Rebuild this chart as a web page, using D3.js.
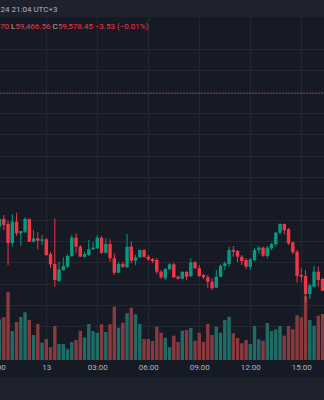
<!DOCTYPE html>
<html><head><meta charset="utf-8">
<script src="https://cdn.jsdelivr.net/npm/d3@7"></script>
<style>html,body{margin:0;padding:0;background:#161a25;overflow:hidden}svg{display:block}</style>
</head><body><svg id="c" width="324" height="400"></svg>
<script>
// ---- data (15-minute candles, BTC/USD, 12–13 Aug 2024, UTC+3) ----
const times = ["21:00","21:15","21:30","21:45","22:00","22:15","22:30","22:45","23:00","23:15","23:30","23:45",
"00:00","00:15","00:30","00:45","01:00","01:15","01:30","01:45","02:00","02:15","02:30","02:45",
"03:00","03:15","03:30","03:45","04:00","04:15","04:30","04:45","05:00","05:15","05:30","05:45",
"06:00","06:15","06:30","06:45","07:00","07:15","07:30","07:45","08:00","08:15","08:30","08:45",
"09:00","09:15","09:30","09:45","10:00","10:15","10:30","10:45","11:00","11:15","11:30","11:45",
"12:00","12:15","12:30","12:45","13:00","13:15","13:30","13:45","14:00","14:15","14:30","14:45",
"15:00","15:15","15:30","15:45","16:00","16:15"];
const open  = [59851.4,59866.8,59902.9,59879.5,59790.4,59890.3,59835.9,59843.4,59902.9,59796.5,59812.5,59801.2,
59807.8,59738.9,59692.0,59612.3,59663.9,59679.3,59729.5,59815.3,59773.1,59726.2,59734.2,59760.9,
59765.6,59815.3,59745.0,59785.8,59718.7,59651.2,59692.0,59676.5,59773.1,59707.5,59723.4,59757.6,
59726.2,59715.4,59710.8,59655.9,59625.0,59667.2,59690.6,59632.5,59623.1,59654.5,59635.8,59700.0,
59671.8,59640.4,59629.7,59609.0,59580.9,59632.5,59682.6,59692.0,59757.6,59752.9,59726.2,59710.8,
59679.3,59710.8,59757.6,59768.4,59729.5,59765.6,59784.3,59838.7,59879.5,59854.7,59793.7,59749.7,
59640.4,59635.8,59551.4,59585.6,59655.9,59621.7];
const high  = [59870.1,59912.3,59921.7,59895.0,59926.4,59932.5,59846.7,59910.9,59905.3,59851.4,59840.6,59827.9,
59813.9,59748.3,59906.2,59702.8,59723.4,59738.9,59827.9,59835.9,59781.1,59748.3,59804.5,59796.5,
59827.9,59823.3,59813.9,59807.8,59742.2,59701.4,59701.4,59832.6,59796.5,59734.2,59760.0,59762.3,
59734.2,59720.1,59720.1,59663.9,59673.3,59696.7,59696.7,59638.1,59659.2,59659.2,59718.7,59706.1,
59687.3,59645.1,59640.4,59625.0,59663.9,59690.6,59702.8,59773.1,59776.4,59757.6,59734.2,59720.1,
59720.1,59767.0,59776.4,59773.1,59776.4,59790.4,59843.4,59882.8,59881.8,59860.8,59796.5,59757.6,
59671.8,59663.9,59598.3,59682.6,59679.3,59626.4];
const low   = [59837.3,59856.1,59851.4,59687.3,59773.1,59823.3,59776.4,59837.3,59795.1,59792.8,59760.9,59781.1,
59729.5,59673.3,59585.6,59607.6,59660.6,59673.3,59724.8,59745.0,59724.8,59720.1,59729.5,59757.6,
59762.3,59738.9,59741.2,59702.8,59640.4,59649.8,59673.3,59673.3,59695.3,59687.3,59722.5,59722.5,
59706.1,59696.7,59645.1,59621.7,59617.0,59663.9,59626.4,59619.3,59619.3,59617.0,59631.1,59668.6,
59631.1,59621.7,59578.1,59570.1,59579.5,59631.1,59663.9,59679.3,59726.2,59701.4,59687.3,59667.2,
59663.9,59706.1,59742.2,59726.2,59718.7,59757.6,59773.1,59832.6,59831.2,59781.1,59737.5,59604.3,
59609.0,59513.9,59527.9,59582.8,59585.6,59565.4];
const close = [59860.8,59902.9,59874.8,59790.4,59890.3,59835.9,59846.7,59902.9,59796.5,59812.5,59801.2,59807.8,
59734.2,59690.6,59617.0,59667.2,59682.6,59729.5,59815.3,59773.1,59726.2,59738.9,59760.9,59768.4,
59815.3,59745.0,59785.8,59718.7,59651.2,59692.0,59679.3,59773.1,59707.5,59723.4,59757.6,59726.2,
59714.0,59706.1,59655.9,59629.7,59667.2,59690.6,59629.7,59623.1,59654.5,59632.5,59700.0,59671.8,
59635.8,59629.7,59609.0,59578.1,59632.5,59684.0,59695.3,59757.6,59749.7,59726.2,59706.1,59679.3,
59714.0,59757.6,59768.4,59730.9,59768.4,59785.8,59838.7,59879.5,59851.4,59789.0,59746.8,59635.8,
59632.5,59551.4,59592.2,59655.9,59617.0,59566.8];
const volume = [300,407,427,680,290,380,430,477,400,250,360,173,
210,127,340,160,160,107,180,200,293,227,360,290,
273,357,280,357,533,323,373,467,523,457,360,210,
210,190,333,273,223,127,243,180,293,300,320,193,
273,183,360,250,333,273,400,433,267,220,167,200,
160,340,207,193,370,290,307,340,243,340,307,447,
427,640,400,343,443,460];
const tickTimes  = ["21:00","00:00","03:00","06:00","09:00","12:00","15:00"];
const tickLabels = ["21:00","13","03:00","06:00","09:00","12:00","15:00"];
const gridPrices = [60700,60600,60500,60400,60300,60200,60100,60000,59900,59800,59700,59600,59500,59400,59300];
const lastPrice = 60492;
const headerLine1 = "24 21:04 UTC+3";
const legendParts = [
  {t:"70", c:"val"},{t:" L", c:"lab"},{t:"59,466.56", c:"val"},
  {t:" C", c:"lab"},{t:"59,578.45", c:"val"},{t:" −3.53 (−0.01%)", c:"val"}];

// ---- drawing ----
const W = 324, H = 400;
const UP = "#089981", DOWN = "#f23645";
const VUP = "#1f6b66", VDOWN = "#8a3a3e";
const BG = "#161a25", PANEL = "#1e222d", GRID = "#232733", TXT = "#b2b5be";
const svg = d3.select("#c");

const x = d3.scalePoint().domain(times).range([-4.7, 322.55]);
const y = d3.scaleLinear().domain([59300, 60700]).range([347.63, 48.97]);
const yv = d3.scaleLinear().domain([0, 700]).range([360, 290]);

svg.append("rect").attr("width", W).attr("height", H).attr("fill", BG);
svg.append("rect").attr("width", W).attr("height", 17).attr("fill", PANEL);
svg.append("rect").attr("y", 377).attr("width", W).attr("height", 23).attr("fill", PANEL);

// grid
const g = svg.append("g");
g.selectAll(".hg").data(gridPrices).join("line")
  .attr("x1", 0).attr("x2", W)
  .attr("y1", d => Math.round(y(d)) + 0.5).attr("y2", d => Math.round(y(d)) + 0.5)
  .attr("stroke", GRID).attr("stroke-width", 1);
g.selectAll(".vg").data(tickTimes).join("line")
  .attr("x1", d => Math.round(x(d)) + 0.5).attr("x2", d => Math.round(x(d)) + 0.5)
  .attr("y1", 17).attr("y2", 360)
  .attr("stroke", GRID).attr("stroke-width", 1);

const data = times.map((t, i) => ({t, o: open[i], h: high[i], l: low[i], c: close[i], v: volume[i]}));
const bw = 3.4;

// volume
svg.append("g").selectAll("rect").data(data).join("rect")
  .attr("x", d => x(d.t) - bw / 2).attr("width", bw)
  .attr("y", d => yv(d.v)).attr("height", d => yv(0) - yv(d.v))
  .attr("fill", d => d.c >= d.o ? VUP : VDOWN);

// price line
svg.append("line").attr("x1", 0).attr("x2", W)
  .attr("y1", y(lastPrice)).attr("y2", y(lastPrice))
  .attr("stroke", DOWN).attr("stroke-opacity", 0.65).attr("stroke-width", 1)
  .attr("stroke-dasharray", "2,1");

// candles
const cg = svg.append("g");
cg.selectAll("line").data(data).join("line")
  .attr("x1", d => x(d.t)).attr("x2", d => x(d.t))
  .attr("y1", d => y(d.h)).attr("y2", d => y(d.l))
  .attr("stroke", d => d.c >= d.o ? UP : DOWN).attr("stroke-width", 1);
cg.selectAll("rect").data(data).join("rect")
  .attr("x", d => x(d.t) - bw / 2).attr("width", bw)
  .attr("y", d => y(Math.max(d.o, d.c)))
  .attr("height", d => Math.max(1, Math.abs(y(d.o) - y(d.c))))
  .attr("fill", d => d.c >= d.o ? UP : DOWN);

// time axis
const ax = svg.append("g").attr("transform", "translate(0,362)")
  .call(d3.axisBottom(x).tickValues(tickTimes).tickFormat((d, i) => tickLabels[i]).tickSize(0).tickPadding(2));
ax.select(".domain").remove();
ax.selectAll("text").attr("fill", TXT).attr("font-family", "Roboto, sans-serif").attr("font-size", 8);

// header
svg.append("text").attr("x", 0.5).attr("y", 12)
  .attr("fill", TXT).attr("font-family", "Roboto, sans-serif").attr("font-size", 8)
  .text(headerLine1);
const lg = svg.append("text").attr("x", 0).attr("y", 28.5)
  .attr("font-family", "Roboto, sans-serif").attr("font-size", 8);
lg.selectAll("tspan").data(legendParts).join("tspan")
  .attr("fill", d => d.c === "val" ? DOWN : TXT)
  .attr("xml:space", "preserve")
  .style("white-space", "pre")
  .text(d => d.t);
</script>
</body></html>
